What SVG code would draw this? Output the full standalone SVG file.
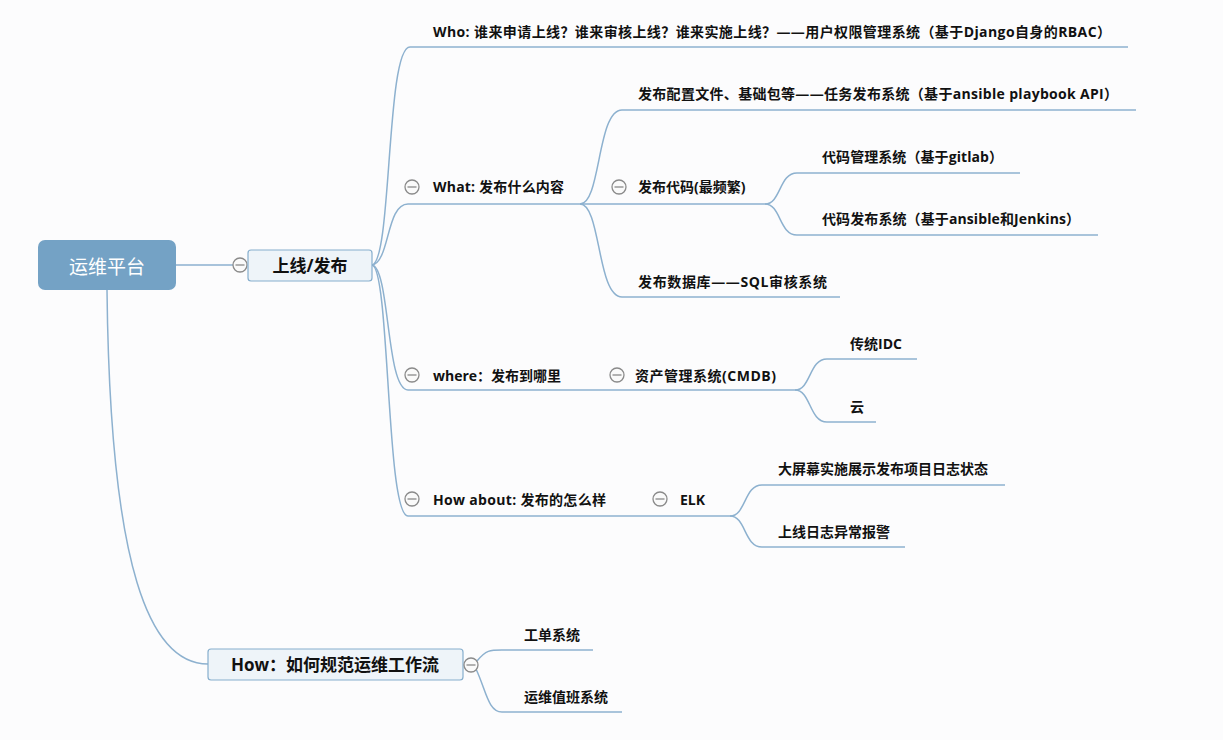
<svg xmlns="http://www.w3.org/2000/svg" width="1223" height="740" viewBox="0 0 1223 740">
<style>
.bg{fill:#fcfcfd}
.ln{fill:none;stroke:#8db1cf;stroke-width:1.5}
.t{font-family:"Open Sans","Noto Sans CJK SC",sans-serif;font-size:14px;font-weight:bold;fill:#111}
.tb{font-family:"Open Sans","Noto Sans CJK SC",sans-serif;font-size:17px;font-weight:bold;fill:#111;text-anchor:middle}
.box{fill:#eef4f9;stroke:#86aecd;stroke-width:1.2}
.cc{fill:#fafafa;stroke:#8a8a8a;stroke-width:1.3}
.cm{stroke:#8a8a8a;stroke-width:1.3}
</style>
<defs>
<g id="col"><circle class="cc" cx="0" cy="0" r="7"/><line class="cm" x1="-4.5" y1="0" x2="4.5" y2="0"/></g>
</defs>
<rect class="bg" x="0" y="0" width="1223" height="740"/>
<g id="connectors">
<path class="ln" d="M176,265 L233,265"/>
<path class="ln" d="M107,290 C110,570 150,664 208,664"/>
<path class="ln" d="M372,265 C392,262 386,47 410,47 L1128,47"/>
<path class="ln" d="M372,265 C390,262 386,204 408,204 L580,204"/>
<path class="ln" d="M372,265 C390,268 386,390 408,390 L795,390"/>
<path class="ln" d="M372,265 C390,268 386,516 408,516 L730,516"/>
<path class="ln" d="M580,204 C601,204 597,110 622,110 L1136,110"/>
<path class="ln" d="M580,204 L765,204"/>
<path class="ln" d="M580,204 C601,204 597,297 622,297 L840,297"/>
<path class="ln" d="M765,204 C781,204 779,173 797,173 L1020,173"/>
<path class="ln" d="M765,204 C781,204 779,235 797,235 L1098,235"/>
<path class="ln" d="M795,390 C811,390 809,359 827,359 L917,359"/>
<path class="ln" d="M795,390 C811,390 809,422 827,422 L876,422"/>
<path class="ln" d="M730,516 C746,516 744,485 762,485 L1005,485"/>
<path class="ln" d="M730,516 C746,516 744,547 762,547 L905,547"/>
<path class="ln" d="M477,661 C486,650 490,650 502,650 L593,650"/>
<path class="ln" d="M476,669 C486,690 488,712 502,712 L622,712"/>
</g>
<g id="root">
<rect x="38" y="240" width="138" height="50" rx="7" fill="#74a2c5"/>
<text x="107" y="274" font-family="Liberation Sans,'Noto Sans CJK SC',sans-serif" font-size="19" fill="#fff" text-anchor="middle">运维平台</text>
</g>
<g id="release">
<use href="#col" x="240" y="265"/>
<rect class="box" x="248" y="250" width="124" height="31" rx="3"/>
<text class="tb" x="310" y="272">上线/发布</text>
</g>
<g id="who"><text class="t" x="433" y="37" textLength="678" lengthAdjust="spacing">Who: 谁来申请上线？谁来审核上线？谁来实施上线？——用户权限管理系统（基于Django自身的RBAC）</text></g>
<g id="what"><use href="#col" x="412" y="187"/><text class="t" x="433" y="192" textLength="131" lengthAdjust="spacing">What: 发布什么内容</text></g>
<g id="cfg"><text class="t" x="638" y="99" textLength="480" lengthAdjust="spacing">发布配置文件、基础包等——任务发布系统（基于ansible playbook API）</text></g>
<g id="code"><use href="#col" x="619" y="187"/><text class="t" x="638" y="192">发布代码(最频繁)</text></g>
<g id="gitlab"><text class="t" x="822" y="162" textLength="181" lengthAdjust="spacing">代码管理系统（基于gitlab）</text></g>
<g id="jenkins"><text class="t" x="822" y="224" textLength="258" lengthAdjust="spacing">代码发布系统（基于ansible和Jenkins）</text></g>
<g id="sql"><text class="t" x="638" y="287" textLength="189" lengthAdjust="spacing">发布数据库——SQL审核系统</text></g>
<g id="where"><use href="#col" x="412" y="375"/><text class="t" x="433" y="381">where：发布到哪里</text></g>
<g id="cmdb"><use href="#col" x="617" y="375"/><text class="t" x="635" y="381" textLength="141" lengthAdjust="spacing">资产管理系统(CMDB)</text></g>
<g id="idc"><text class="t" x="850" y="349">传统IDC</text></g>
<g id="cloud"><text class="t" x="850" y="412">云</text></g>
<g id="howabout"><use href="#col" x="412" y="499"/><text class="t" x="433" y="505" textLength="173" lengthAdjust="spacing">How about: 发布的怎么样</text></g>
<g id="elk"><use href="#col" x="660" y="499"/><text class="t" x="680" y="505">ELK</text></g>
<g id="screen"><text class="t" x="778" y="474">大屏幕实施展示发布项目日志状态</text></g>
<g id="alarm"><text class="t" x="778" y="537">上线日志异常报警</text></g>
<g id="how">
<rect class="box" x="208" y="649" width="255" height="31" rx="3"/>
<text class="tb" x="335" y="671">How：如何规范运维工作流</text>
<use href="#col" x="471" y="665"/>
</g>
<g id="ticket"><text class="t" x="524" y="640">工单系统</text></g>
<g id="duty"><text class="t" x="524" y="702">运维值班系统</text></g>
</svg>
